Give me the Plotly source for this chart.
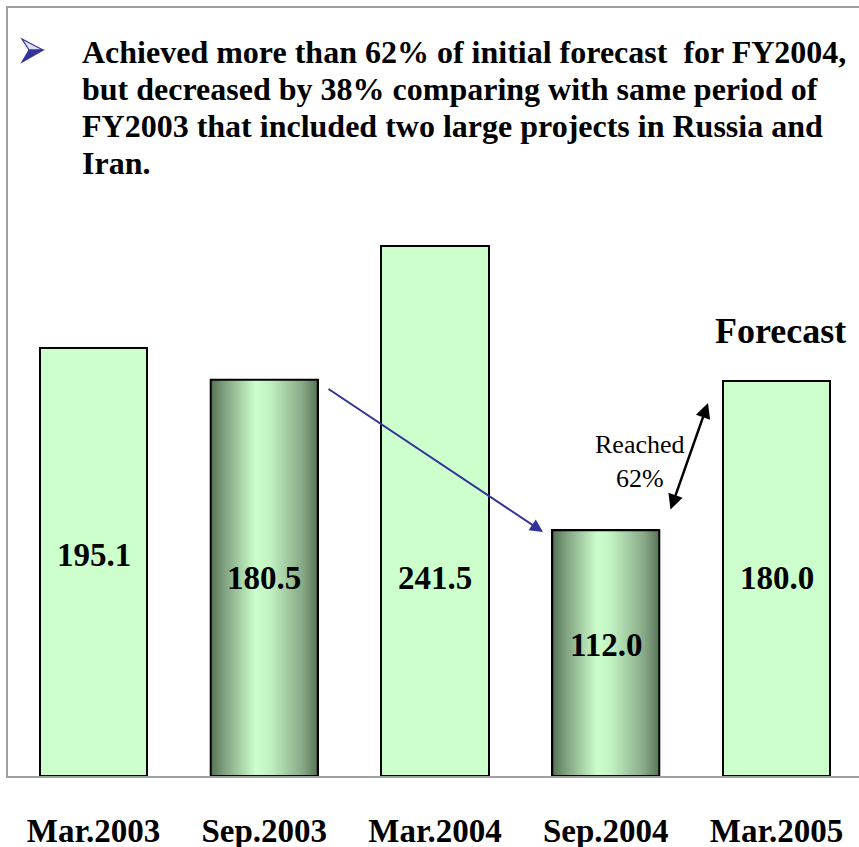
import plotly.graph_objects as go

# ---------------- data ----------------
categories = ["Mar.2003", "Sep.2003", "Mar.2004", "Sep.2004", "Mar.2005"]
values = [195.1, 180.5, 241.5, 112.0, 180.0]
value_labels = ["195.1", "180.5", "241.5", "112.0", "180.0"]
gradient_bar = [False, True, False, True, False]   # Sep periods shown with shaded bars
heading_lines = [
    "Achieved more than 62% of initial forecast  for FY2004,",
    "but decreased by 38% comparing with same period of",
    "FY2003 that included two large projects in Russia and",
    "Iran.",
]

# ---------------- geometry / style ----------------
W, H = 859, 847
ML, MT, MB = 8, 8, 71
PW = W - ML
PH = H - MT - MB
PX_PER_CAT = 170.75
YSCALE = 2.195            # px per unit
BAR_W = 0.627
XR = [-(93.5 - ML) / PX_PER_CAT, -(93.5 - ML) / PX_PER_CAT + PW / PX_PER_CAT]
YR = [0, PH / YSCALE]
LABEL_Y = [100.9, 90.0, 90.0, 59.7, 90.0]   # vertical positions of value labels
SERIF = "Liberation Serif, Times New Roman, serif"
GREEN = "#ccffcc"
FRAME = "#a0a0a0"


def px(x):   # page pixel x -> paper
    return (x - ML) / PW


def py(y):   # page pixel y -> paper
    return (H - MB - y) / PH


x_idx = list(range(len(categories)))

fig = go.Figure()
fig.add_trace(go.Bar(
    x=x_idx, y=values, width=BAR_W,
    marker=dict(color=GREEN, line=dict(color="black", width=2)),
    hoverinfo="skip", showlegend=False,
))

grad = [[0, "#557155"], [0.12, "#7d9e7d"], [0.42, "#ccffcc"],
        [0.56, "#c0f0c0"], [0.86, "#87a887"], [1, "#587458"]]
for i, v in enumerate(values):
    if gradient_bar[i]:
        x0, x1 = i - BAR_W / 2, i + BAR_W / 2
        fig.add_trace(go.Scatter(
            x=[x0, x1, x1, x0, x0], y=[0, 0, v, v, 0],
            mode="lines", fill="toself",
            fillgradient=dict(type="horizontal", colorscale=grad),
            line=dict(color="black", width=2),
            hoverinfo="skip", showlegend=False,
        ))

annotations = []
for i, lab in enumerate(value_labels):
    annotations.append(dict(
        x=i, y=LABEL_Y[i], xref="x", yref="y", text=f"<b>{lab}</b>",
        showarrow=False, font=dict(family=SERIF, size=33, color="black"),
        xanchor="center", yanchor="middle",
    ))

for k, line in enumerate(heading_lines):
    annotations.append(dict(
        x=px(80), y=py(52 + 37 * k), xref="paper", yref="paper",
        text=f"<b>{line}</b>", showarrow=False,
        font=dict(family=SERIF, size=32, color="black"),
        xanchor="left", yanchor="middle",
    ))

annotations.append(dict(
    x=px(780), y=py(331), xref="paper", yref="paper", text="<b>Forecast</b>",
    showarrow=False, font=dict(family=SERIF, size=36, color="black"),
    xanchor="center", yanchor="middle",
))
annotations.append(dict(
    x=px(640), y=py(461), xref="paper", yref="paper", text="Reached<br>62%",
    showarrow=False, font=dict(family=SERIF, size=26, color="black"),
    xanchor="center", yanchor="middle", align="center",
))
# blue arrow
annotations.append(dict(
    x=px(543), y=py(532), xref="paper", yref="paper", text="",
    showarrow=True, ax=327 - 543, ay=388 - 532,
    arrowhead=2, arrowsize=1.3, arrowwidth=2, arrowcolor="#333399",
))
# double arrow
annotations.append(dict(
    x=px(708), y=py(403), xref="paper", yref="paper", text="",
    showarrow=True, ax=670 - 708, ay=511 - 403,
    arrowhead=2, startarrowhead=2, arrowside="end+start",
    arrowsize=1.2, startarrowsize=1.2, arrowwidth=2.5, arrowcolor="black",
))

shapes = [
    dict(type="path", xref="paper", yref="paper",
         path=f"M {px(22)},{py(39)} L {px(43)},{py(50)} L {px(29)},{py(50)} Z",
         fillcolor="#e0e0f4", line=dict(color="#333399", width=1.2)),
    dict(type="path", xref="paper", yref="paper",
         path=f"M {px(29)},{py(50)} L {px(43)},{py(50)} L {px(22)},{py(62)} Z",
         fillcolor="#333399", line=dict(color="#333399", width=1.2)),
]

fig.update_layout(
    width=W, height=H,
    margin=dict(l=ML, r=0, t=MT, b=MB, pad=0),
    plot_bgcolor="white", paper_bgcolor="white",
    annotations=annotations, shapes=shapes,
    showlegend=False, bargap=0,
    xaxis=dict(range=XR, tickvals=x_idx,
               ticktext=[f"<b>{c}</b>" for c in categories],
               tickfont=dict(family=SERIF, size=33, color="black"),
               showgrid=False, zeroline=False, ticks="",
               showline=True, linecolor=FRAME, linewidth=2, mirror=True,
               ticklabelstandoff=24, automargin=False, fixedrange=True),
    yaxis=dict(range=YR, showgrid=False, zeroline=False, showticklabels=False,
               ticks="", showline=True, linecolor=FRAME, linewidth=2,
               automargin=False, fixedrange=True),
)

fig.write_html(
    "out.html",
    config={"displayModeBar": False},
    post_script="document.body.style.margin='0';document.body.style.overflow='hidden';",
)
